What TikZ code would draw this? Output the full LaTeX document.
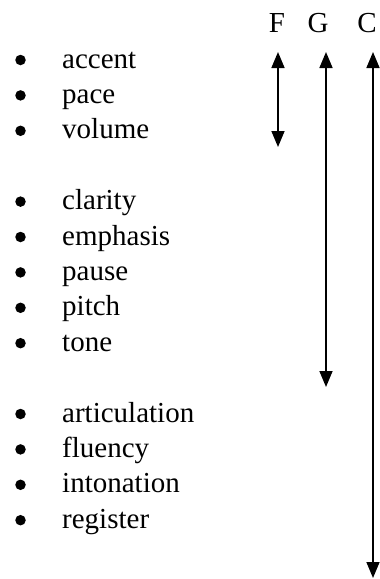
\documentclass[tikz,border=0pt]{standalone}
\usepackage{fontspec}
\setmainfont{Liberation Serif}
\usetikzlibrary{arrows.meta}
\begin{document}
\begin{tikzpicture}[x=1pt,y=-1pt,
  item/.style={anchor=base west,inner sep=0pt,font=\fontsize{29}{35}\selectfont},
  dot/.style={circle,fill=black,inner sep=0pt,minimum size=10.5pt},
  head/.style={anchor=base,inner sep=0pt,font=\fontsize{29}{35}\selectfont},
  span/.style={line width=1.6pt,{Triangle[length=16pt,width=13pt]}-{Triangle[length=16pt,width=13pt]}}]
\useasboundingbox (0,0) rectangle (380,579);
% column headings
\node[head] (hF) at (277,32) {F};
\node[head] (hG) at (318,32) {G};
\node[head] (hC) at (367,32) {C};
% bulleted lists, three groups
\foreach \t/\k [count=\i from 0] in {accent/0,pace/1,volume/2,clarity/4,emphasis/5,pause/6,pitch/7,tone/8,articulation/10,fluency/11,intonation/12,register/13}{
  \node[dot] (b\i) at (20.5,60+35.4*\k) {};
  \node[item] (t\i) at (62,68+35.4*\k) {\t};
}
% range arrows
\coordinate (Ftop) at (278,52);
\coordinate (Fbot) at (278,147);
\coordinate (Gtop) at (326,52);
\coordinate (Gbot) at (326,387);
\coordinate (Ctop) at (373,52);
\coordinate (Cbot) at (373,578);
\draw[span] (Ftop) -- (Fbot);
\draw[span] (Gtop) -- (Gbot);
\draw[span] (Ctop) -- (Cbot);
\end{tikzpicture}
\end{document}
